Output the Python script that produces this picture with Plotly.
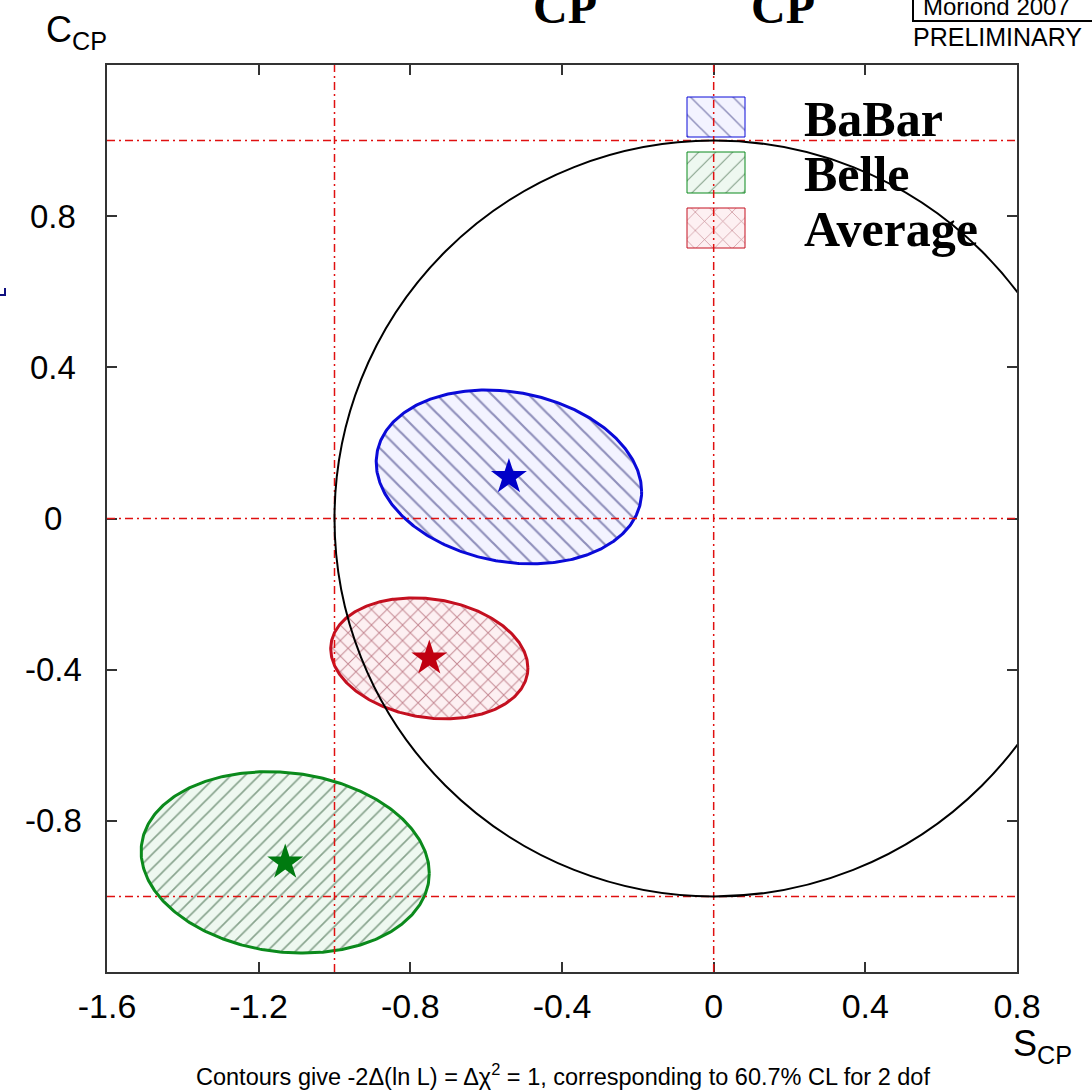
import numpy as np
import plotly.graph_objects as go

# ---- measurements: D+D- time-dependent CP asymmetries ----
experiments = ["BaBar", "Belle", "Average"]
S_central = [-0.54, -1.13, -0.75]
C_central = [0.11, -0.91, -0.37]
S_err = [0.35, 0.38, 0.26]
C_err = [0.23, 0.24, 0.16]
corr = [-0.17, -0.12, -0.16]

x_ticks = [-1.6, -1.2, -0.8, -0.4, 0, 0.4, 0.8]
x_ticklabels = ["-1.6", "-1.2", "-0.8", "-0.4", "0", "0.4", "0.8"]
y_ticks = [0.8, 0.4, 0, -0.4, -0.8]
y_ticklabels = ["0.8", "0.4", "0", "-0.4", "-0.8"]
ref_lines_S = [-1, 0]
ref_lines_C = [1, 0, -1]

X_RANGE = [-1.6, 0.8]
Y_RANGE = [-1.2, 1.2]

# ---- styling per experiment ----
edge_colors = ["#0a0ad8", "#0b8a1c", "#c41020"]
star_colors = ["#0000c8", "#007a10", "#c00010"]
hatch_shapes = ["\\", "/", "x"]
hatch_fg = ["#2c2c78", "#24502c", "#8a1e30"]
hatch_bg = ["#f3f3ff", "#eef8f0", "#fdf0f2"]
hatch_size = [13, 10, 11]

W, H = 1092, 1091
L, R, T, B = 107, 1017, 65, 972  # plot area in page pixels


def px(xpix):
    return (xpix - L) / (R - L)


def py(ypix):
    return (B - ypix) / (B - T)


def y_to_paper(v):
    return (v - Y_RANGE[0]) / (Y_RANGE[1] - Y_RANGE[0])


serif_bold = "Liberation Serif, Times New Roman, serif"
sans = "Liberation Sans, Arial, Helvetica, sans-serif"

fig = go.Figure()
annotations = []

# Delta chi^2 = 1 contours
t = np.linspace(0, 2 * np.pi, 400)
for i, name in enumerate(experiments):
    s = S_central[i] + S_err[i] * np.cos(t)
    c = C_central[i] + C_err[i] * (corr[i] * np.cos(t) + np.sqrt(1 - corr[i] ** 2) * np.sin(t))
    fig.add_trace(go.Scatter(
        x=s, y=c, mode="lines", fill="toself", name=name,
        line=dict(color=edge_colors[i], width=3),
        fillcolor=hatch_bg[i],
        fillpattern=dict(shape=hatch_shapes[i], fgcolor=hatch_fg[i], bgcolor=hatch_bg[i],
                         size=hatch_size[i], solidity=0.17),
        showlegend=False, hoverinfo="skip",
    ))

# central values
for i, name in enumerate(experiments):
    fig.add_trace(go.Scatter(
        x=[S_central[i]], y=[C_central[i]], mode="markers",
        marker=dict(symbol="star", size=27, color=star_colors[i], line=dict(width=0)),
        showlegend=False, hoverinfo="skip",
    ))

# legend swatches (drawn on an overlay axis in plot-fraction units)
box_x0, box_x1 = px(687), px(745)
box_rows = [(97, 137), (152, 193), (208, 248)]
text_rows = [119, 174, 229]
for i, name in enumerate(experiments):
    y0, y1 = py(box_rows[i][1]), py(box_rows[i][0])
    fig.add_trace(go.Scatter(
        x=[box_x0, box_x1, box_x1, box_x0, box_x0],
        y=[y0, y0, y1, y1, y0],
        xaxis="x2", yaxis="y2", mode="lines", fill="toself",
        line=dict(color=edge_colors[i], width=1),
        fillcolor=hatch_bg[i],
        fillpattern=dict(shape=hatch_shapes[i], fgcolor=hatch_fg[i], bgcolor=hatch_bg[i],
                         size=hatch_size[i] + 2, solidity=0.1),
        showlegend=False, hoverinfo="skip",
    ))
    annotations.append(dict(
        x=px(802), y=py(text_rows[i]), xref="paper", yref="paper",
        text=f"<b>{name}</b>", showarrow=False, xanchor="left", yanchor="middle",
        font=dict(family=serif_bold, size=50, color="black"),
    ))

shapes = []
# dash-dot reference lines
for sv in ref_lines_S:
    shapes.append(dict(type="line", xref="x", yref="paper", x0=sv, x1=sv, y0=0, y1=1,
                       line=dict(color="#e01010", width=1.5, dash="8px,4px,2px,4px"), layer="above"))
for cv in ref_lines_C:
    shapes.append(dict(type="line", xref="paper", yref="y", x0=0, x1=1, y0=cv, y1=cv,
                       line=dict(color="#e01010", width=1.5, dash="8px,4px,2px,4px"), layer="above"))
# physical boundary S^2 + C^2 = 1
shapes.append(dict(type="circle", xref="x", yref="y", x0=-1, x1=1, y0=-1, y1=1,
                   line=dict(color="black", width=2), layer="above"))
# conference box
shapes.append(dict(type="rect", xref="paper", yref="paper",
                   x0=px(913), x1=px(1110), y0=py(21), y1=py(-20),
                   line=dict(color="black", width=2), fillcolor="rgba(0,0,0,0)"))
# small marker at left edge
shapes.append(dict(type="line", xref="paper", yref="paper", x0=px(0), x1=px(6), y0=py(295), y1=py(295),
                   line=dict(color="#101080", width=2)))
shapes.append(dict(type="line", xref="paper", yref="paper", x0=px(5), x1=px(5), y0=py(288), y1=py(295),
                   line=dict(color="#101080", width=2)))

# y tick labels, centred in the left margin
for v, lab in zip(y_ticks, y_ticklabels):
    annotations.append(dict(x=px(53), y=y_to_paper(v), xref="paper", yref="paper", text=lab,
                            showarrow=False, xanchor="center", yanchor="middle",
                            font=dict(family=sans, size=33, color="black")))
# axis titles
annotations.append(dict(x=px(44), y=py(32), xref="paper", yref="paper", text="C<sub>CP</sub>",
                        showarrow=False, xanchor="left", yanchor="middle",
                        font=dict(family=sans, size=36, color="black")))
annotations.append(dict(x=px(1011), y=py(1046), xref="paper", yref="paper", text="S<sub>CP</sub>",
                        showarrow=False, xanchor="left", yanchor="middle",
                        font=dict(family=sans, size=36, color="black")))
# footnote
annotations.append(dict(x=px(563), y=py(1075), xref="paper", yref="paper",
                        text="Contours give -2\u0394(ln L) = \u0394\u03c7<sup>2</sup> = 1, corresponding to 60.7% CL for 2 dof",
                        showarrow=False, xanchor="center", yanchor="middle",
                        font=dict(family=sans, size=23.5, color="black")))
# title subscripts (the rest of the title runs above the page edge)
title_pieces = [("CP", 531, 48, 6), ("CP", 749, 48, 6)]
for txt, xl, fs, yc in title_pieces:
    annotations.append(dict(x=px(xl), y=py(yc), xref="paper", yref="paper", text=f"<b>{txt}</b>",
                            showarrow=False, xanchor="left", yanchor="middle",
                            font=dict(family=serif_bold, size=fs, color="black")))
# conference labels
annotations.append(dict(x=px(921), y=py(6), xref="paper", yref="paper", text="Moriond 2007",
                        showarrow=False, xanchor="left", yanchor="middle",
                        font=dict(family=sans, size=24, color="black")))
annotations.append(dict(x=px(911), y=py(37), xref="paper", yref="paper", text="PRELIMINARY",
                        showarrow=False, xanchor="left", yanchor="middle",
                        font=dict(family=sans, size=25, color="black")))

axis_common = dict(showgrid=False, zeroline=False, showline=True, linecolor="#333333", linewidth=2,
                   mirror="ticks", ticks="inside", ticklen=10, tickwidth=2, tickcolor="#333333")

fig.update_layout(
    width=W, height=H,
    margin=dict(l=L, r=W - R, t=T, b=H - B, pad=0),
    paper_bgcolor="white", plot_bgcolor="white",
    showlegend=False,
    xaxis=dict(range=X_RANGE, tickvals=x_ticks, ticktext=x_ticklabels,
               tickfont=dict(family=sans, size=34, color="black"), ticklabelstandoff=3,
               **axis_common),
    yaxis=dict(range=Y_RANGE, tickvals=y_ticks, showticklabels=False, **axis_common),
    xaxis2=dict(range=[0, 1], overlaying="x", visible=False),
    yaxis2=dict(range=[0, 1], overlaying="y", visible=False),
    shapes=shapes,
    annotations=annotations,
)

fig.write_html("out.html")
